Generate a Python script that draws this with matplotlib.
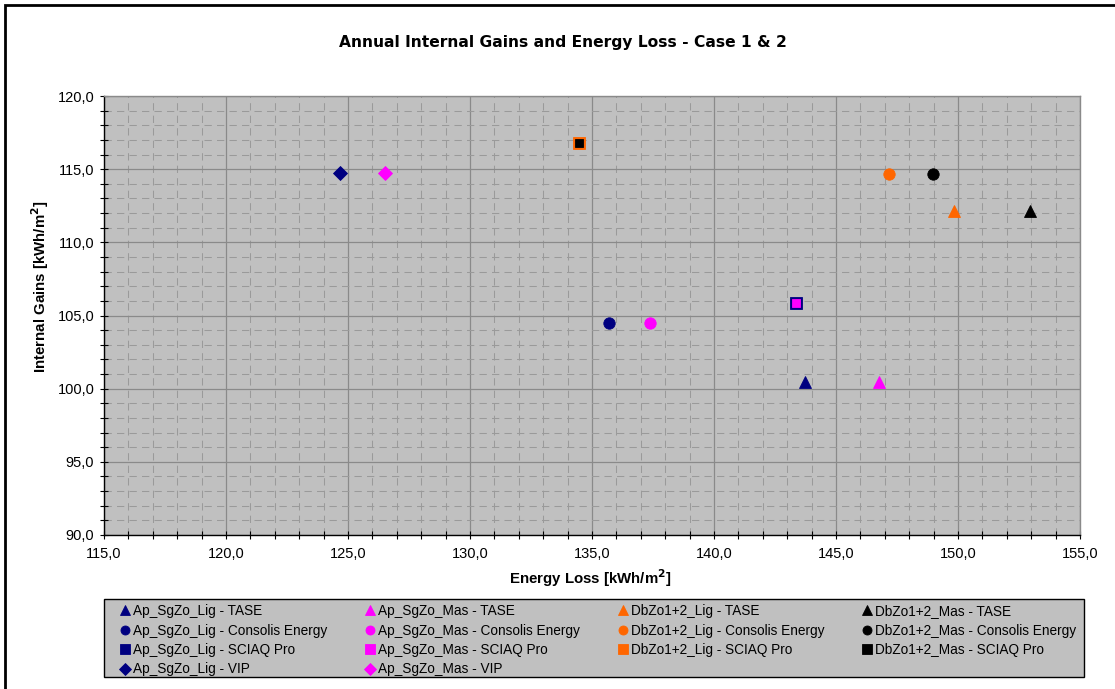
import numpy as np
import matplotlib.pyplot as plt
import matplotlib as mpl
from matplotlib.ticker import MultipleLocator, FuncFormatter
from matplotlib.patches import Rectangle

mpl.rcParams['font.family'] = ['Liberation Sans', 'DejaVu Sans']
mpl.rcParams['font.size'] = 10

# Ap_SgZo_Lig  (TASE, Consolis Energy, SCIAQ Pro, VIP)
lig_names = ['Ap_SgZo_Lig - TASE', 'Ap_SgZo_Lig - Consolis Energy', 'Ap_SgZo_Lig - SCIAQ Pro', 'Ap_SgZo_Lig - VIP']
lig_loss = [143.74, 135.68, 143.37, 124.67]
lig_gains = [100.45, 104.48, 105.86, 114.73]
# Ap_SgZo_Mas
mas_names = ['Ap_SgZo_Mas - TASE', 'Ap_SgZo_Mas - Consolis Energy', 'Ap_SgZo_Mas - SCIAQ Pro', 'Ap_SgZo_Mas - VIP']
mas_loss = [146.75, 137.38, 143.37, 126.52]
mas_gains = [100.45, 104.48, 105.86, 114.73]
# DbZo1+2_Lig  (TASE, Consolis Energy, SCIAQ Pro)
dblig_names = ['DbZo1+2_Lig - TASE', 'DbZo1+2_Lig - Consolis Energy', 'DbZo1+2_Lig - SCIAQ Pro']
dblig_loss = [149.85, 147.17, 134.47]
dblig_gains = [112.13, 114.69, 116.77]
# DbZo1+2_Mas
dbmas_names = ['DbZo1+2_Mas - TASE', 'DbZo1+2_Mas - Consolis Energy', 'DbZo1+2_Mas - SCIAQ Pro']
dbmas_loss = [152.95, 148.96, 134.47]
dbmas_gains = [112.13, 114.69, 116.77]

W, H = 1115, 689
fig = plt.figure(figsize=(W/100, H/100), dpi=100)
ax = fig.add_axes([104/W, 1-535/H, (1080-104)/W, (535-96)/H])
ax.set_facecolor('#C0C0C0')

# marker style per tool: TASE, Consolis, SCIAQ, VIP
mk = ['^', 'o', 's', 'D']
ms = [8.4, 8.2, 9.0, 6.8]
ms_top = [8.4, 8.2, 6.0, 6.8]   # square of 2nd series sits inside the 1st

groups = [
    (lig_names, lig_loss, lig_gains, '#000080', ms),
    (mas_names, mas_loss, mas_gains, '#FF00FF', ms_top),
    (dblig_names, dblig_loss, dblig_gains, '#FF6600', ms),
    (dbmas_names, dbmas_loss, dbmas_gains, '#000000', ms_top),
]
for names, xs, ys, col, sizes in groups:
    for i, name in enumerate(names):
        ax.plot(xs[i], ys[i], linestyle='none', marker=mk[i], markersize=sizes[i],
                markerfacecolor=col, markeredgecolor=col, markeredgewidth=0.6,
                label=name, zorder=3)

ax.set_xlim(115, 155)
ax.set_ylim(90, 120)
ax.xaxis.set_major_locator(MultipleLocator(5))
ax.xaxis.set_minor_locator(MultipleLocator(1))
ax.yaxis.set_major_locator(MultipleLocator(5))
ax.yaxis.set_minor_locator(MultipleLocator(1))
fmt = FuncFormatter(lambda v, p: f'{v:.1f}'.replace('.', ','))
ax.xaxis.set_major_formatter(fmt)
ax.yaxis.set_major_formatter(fmt)

ax.grid(which='minor', color='#9A9A9A', linestyle=(0, (7, 5)), linewidth=0.75, zorder=1)
ax.grid(which='major', color='#8A8A8A', linestyle='-', linewidth=0.9, zorder=1)
ax.set_axisbelow(True)

ax.tick_params(which='both', direction='inout', length=6, width=0.8, color='black',
               labelsize=10.5, top=False, right=False)
ax.tick_params(axis='y', pad=4)
ax.tick_params(axis='x', pad=6)

for s in ['left', 'bottom']:
    ax.spines[s].set_color('black')
    ax.spines[s].set_linewidth(1.0)
for s in ['top', 'right']:
    ax.spines[s].set_color('#8A8A8A')
    ax.spines[s].set_linewidth(1.0)

fig.text(563/W, 1-42/H, 'Annual Internal Gains and Energy Loss - Case 1 & 2',
         ha='center', va='center', fontsize=11.2, fontweight='bold', family='DejaVu Sans')
fig.text(590/W, 1-578/H, r'Energy Loss [kWh/m$^\mathbf{2}$]', ha='center', va='center',
         fontsize=10.8, fontweight='bold')
fig.text(40/W, 1-287/H, r'Internal Gains [kWh/m$^\mathbf{2}$]', ha='center', va='center',
         fontsize=10.8, fontweight='bold', rotation=90)

# legend box drawn separately, entries placed inside it
fig.add_artist(Rectangle((104/W, 1-677/H), (1084-104)/W, (677-599)/H, transform=fig.transFigure,
                         facecolor='#C0C0C0', edgecolor='black', linewidth=1.0, zorder=0))
leg = ax.legend(loc='upper left', bbox_to_anchor=(115/W, 1-600/H), bbox_transform=fig.transFigure,
                ncol=4, frameon=False, fontsize=9.8, handlelength=0.8, handletextpad=0.2,
                columnspacing=2.75, labelspacing=0.4, borderpad=0.3, borderaxespad=0,
                numpoints=1)
leg_sizes = [6.5, 6.5, 6.5, 6.0] * 2 + [6.5, 6.5, 6.5] * 2
for h, sz in zip(leg.legend_handles, leg_sizes):
    h.set_markersize(sz)

# outer chart border
fig.add_artist(Rectangle((5/W, -0.05), 1.1, 1.05 - 5/H, transform=fig.transFigure,
                         facecolor='none', edgecolor='black', linewidth=2.0))

fig.savefig('out.png', dpi=100)
